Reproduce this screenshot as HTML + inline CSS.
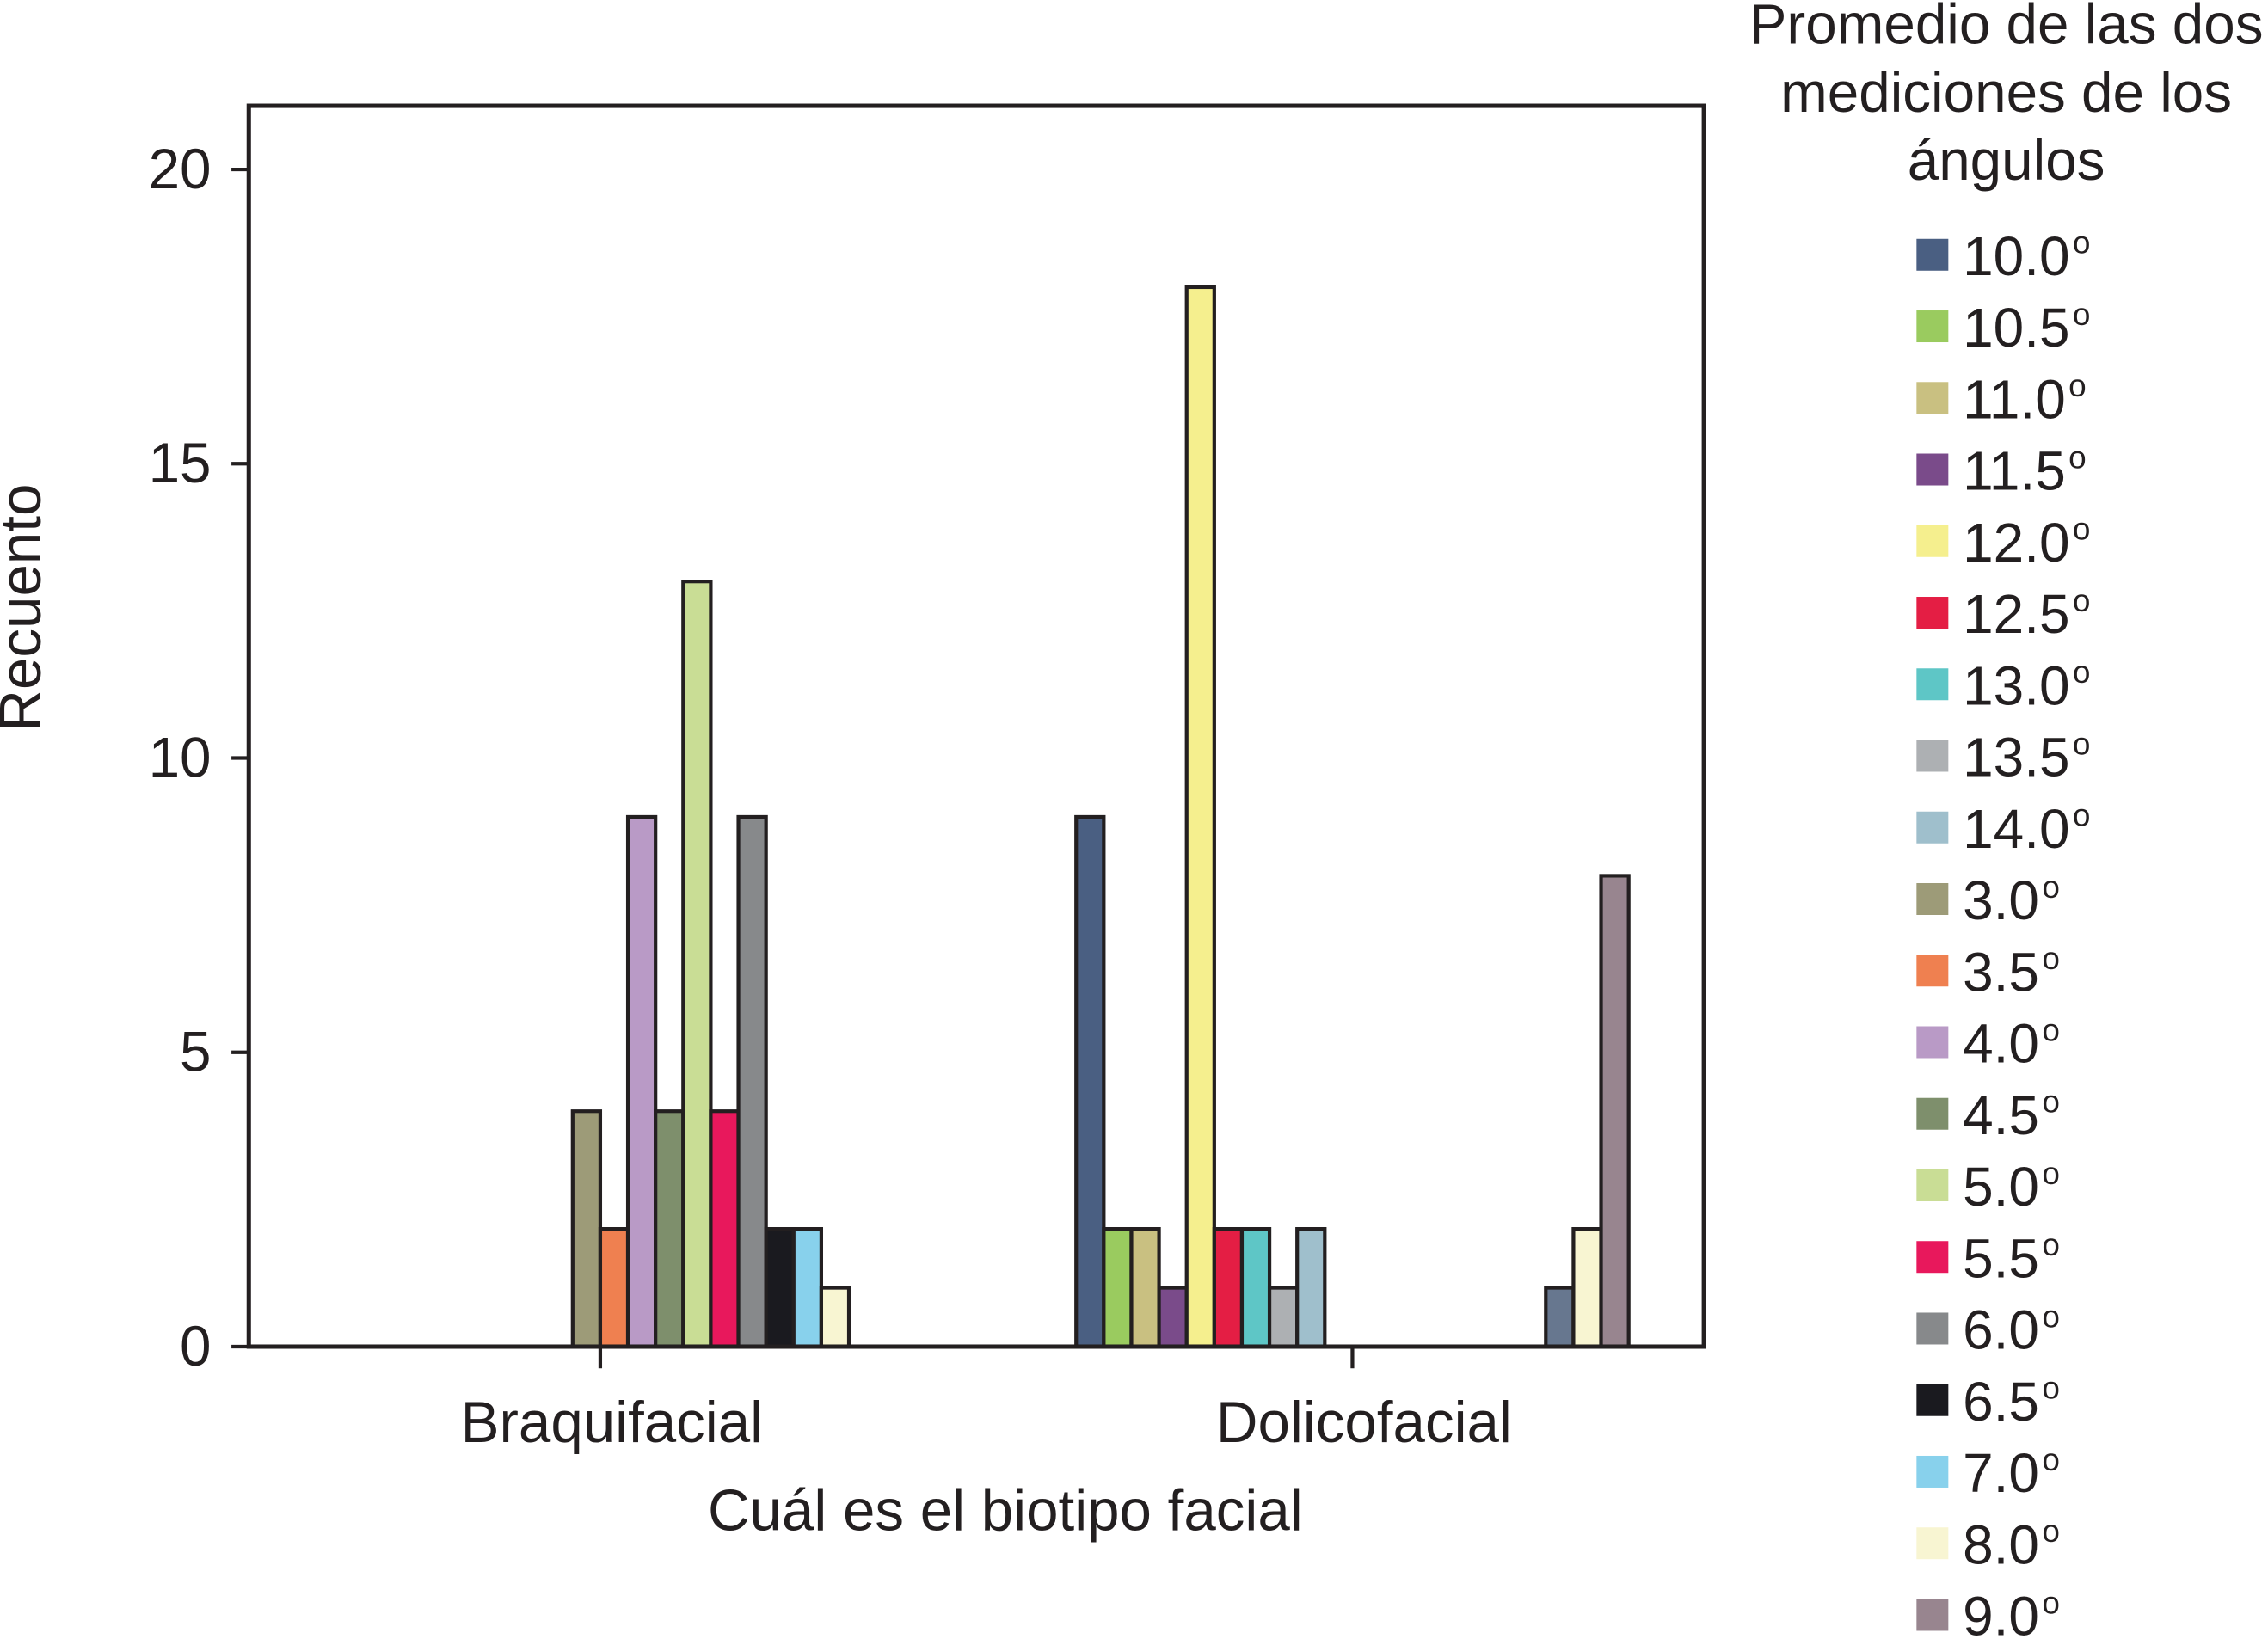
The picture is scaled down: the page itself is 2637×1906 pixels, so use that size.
<!DOCTYPE html>
<html><head><meta charset="utf-8"><style>
html,body{margin:0;padding:0;background:#fff;}
svg{display:block;font-family:"Liberation Sans",Arial,sans-serif;}
</style></head><body>
<svg id="chart" width="2637" height="1906" viewBox="0 0 1568 1133" xmlns="http://www.w3.org/2000/svg">
<g id="plot"></g>
<g id="legend"></g>
</svg>
<script>
const groups = ["Braquifacial", "Dolicofacial"];
const categories = ["10.0","10.5","11.0","11.5","12.0","12.5","13.0","13.5","14.0","3.0","3.5","4.0","4.5","5.0","5.5","6.0","6.5","7.0","8.0","9.0"];
const colors = ["#4a5f82","#9acb5f","#c9c081","#7a4b8a","#f5ef8e","#e41e44","#5ec6c6","#adb0b3","#9fbfcc","#9d9b78","#ef8050","#b99ac6","#7e8f6c","#c9dd95","#e8185c","#87898b","#1a1a1f","#88d1ec","#f8f5d2","#98858f"];
const braquiValues = [0,0,0,0,0,0,0,0,0,4,2,9,4,13,4,9,2,2,1,0];
const dolicoValues = [9,2,2,1,18,2,2,1,2,0,0,0,0,0,0,0,0,1,2,8];
const dolicoColorOverride = {17:"#67778f"};
const yTicks = [0,5,10,15,20];

const NS="http://www.w3.org/2000/svg";
const plot=document.getElementById('plot'), legend=document.getElementById('legend');
function el(tag,attrs,parent,text){const e=document.createElementNS(NS,tag);for(const k in attrs)e.setAttribute(k,attrs[k]);if(text!==undefined)e.textContent=text;parent.appendChild(e);return e;}
const X0=172,X1=1178,Y0=931,Y20=117;
const y=v=>Y0-(Y0-Y20)*v/20;
const groupCenter=[415,935];
const slotW=19.1;
const slotX=(g,i)=>groupCenter[g]-slotW*categories.length/2+i*slotW;

yTicks.forEach(t=>{
  const tk=el('line',{x1:160,x2:X0,y1:y(t),y2:y(t),stroke:'#231f20','stroke-width':2.5},plot);
  
  
  const lb=el('text',{x:146,y:y(t)+13,'text-anchor':'end','font-size':39,fill:'#231f20'},plot,String(t));
  
  
});
[braquiValues,dolicoValues].forEach((vals,g)=>{
  vals.forEach((v,i)=>{
    if(v<=0)return;
    const fill=(g===1&&dolicoColorOverride[i])?dolicoColorOverride[i]:colors[i];
    const r=el('rect',{x:slotX(g,i),y:y(v),width:slotW,height:Y0-y(v),fill:fill,stroke:'#231f20','stroke-width':2.5},plot);
    
    
  });
});
const fr=el('rect',{x:X0,y:73,width:X1-X0,height:Y0-73,fill:'none',stroke:'#231f20','stroke-width':3},plot);


groups.forEach((gname,g)=>{
  const tk=el('line',{x1:groupCenter[g],x2:groupCenter[g],y1:Y0,y2:946,stroke:'#231f20','stroke-width':2.5},plot);
  
  
  const lb=el('text',{x:groupCenter[g]+8,y:997,'text-anchor':'middle','font-size':40,fill:'#231f20'},plot,gname);
  
  
});
const xt=el('text',{x:695,y:1058,'text-anchor':'middle','font-size':40,fill:'#231f20'},plot,'Cuál es el biotipo facial');


const yt=el('text',{x:0,y:0,transform:'translate(28,420) rotate(-90)','text-anchor':'middle','font-size':40,fill:'#231f20'},plot,'Recuento');


['Promedio de las dos','mediciones de los','ángulos'].forEach((s,k)=>{
  const t=el('text',{x:1387,y:30+k*47,'text-anchor':'middle','font-size':39,fill:'#231f20'},legend,s);
  
  
});
categories.forEach((c,i)=>{
  const yy=165+i*49.5;
  const g=el('g',{},legend);
  
  
  el('rect',{x:1325,y:yy,width:22,height:22,fill:colors[i]},g);
  const t=el('text',{x:1357,y:yy+25,'font-size':38,fill:'#231f20'},g,c);
  el('tspan',{'font-size':22,dy:-15,dx:2},t,'o');
});
</script>
</body></html>
